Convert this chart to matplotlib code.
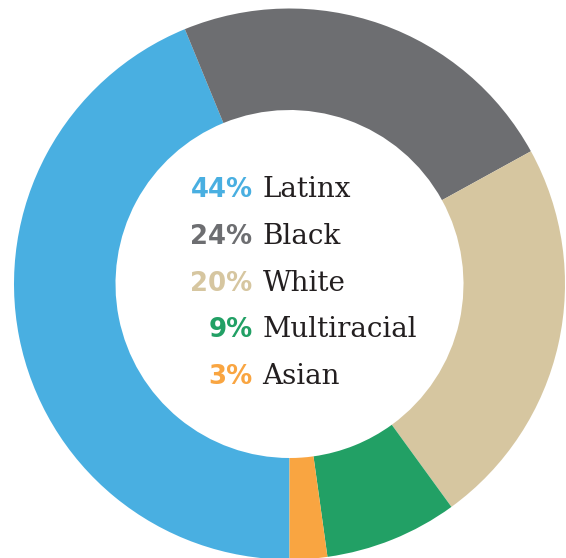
import matplotlib.pyplot as plt

# Data
groups = ["Latinx", "Black", "White", "Multiracial", "Asian"]
pct_labels = ["44%", "24%", "20%", "9%", "3%"]
# wedge shares as drawn in the ring
ring_shares = [43.8, 23.2, 23.0, 7.8, 2.2]
colors = ["#49AFE1", "#6D6E71", "#D6C6A0", "#22A065", "#F9A541"]

fig = plt.figure(figsize=(5.66, 5.58), dpi=100)
ax = fig.add_axes([0, 0, 1, 1])

outer_r = 275.5
inner_r = 174

ax.pie(ring_shares, colors=colors, radius=outer_r, startangle=-90,
       counterclock=False,
       wedgeprops=dict(width=outer_r - inner_r, linewidth=0))

# 1 data unit = 1 pixel, centre of ring at (289.5, 284) from top-left
ax.set_xlim(-289.5, 566 - 289.5)
ax.set_ylim(284 - 558, 284)
ax.set_aspect("auto")
ax.axis("off")

# Legend text in the hole
y0 = 284 - 197.3
step = 46.7
for i, (p, g, c) in enumerate(zip(pct_labels, groups, colors)):
    y = y0 - i * step
    ax.text(-37, y, p, ha="right", va="baseline", color=c,
            fontsize=18.7, fontweight="bold", family="DejaVu Sans")
    ax.text(-27, y, g, ha="left", va="baseline", color="#231F20",
            fontsize=20, family="DejaVu Serif")

fig.savefig("out.png", dpi=100)
